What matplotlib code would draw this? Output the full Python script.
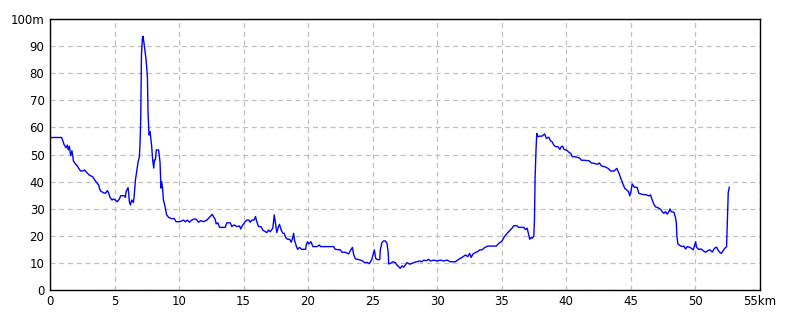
import matplotlib
matplotlib.use("Agg")
import matplotlib.pyplot as plt

# distance along route (km) and elevation (m)
dist_km = [
    0.0, 0.9, 0.98, 1.09, 1.24, 1.34, 1.42, 1.5, 1.6, 1.7, 1.76, 1.81, 1.97, 2.12, 2.22,
    2.38, 2.59, 2.69, 2.84, 3.05, 3.31, 3.47, 3.62, 3.78, 3.83, 3.93, 4.14, 4.29, 4.45,
    4.55, 4.65, 4.81, 4.91, 5.07, 5.22, 5.38, 5.48, 5.74, 5.84, 5.9, 6.05, 6.1, 6.15,
    6.23, 6.34, 6.46, 6.52, 6.62, 6.72, 6.83, 6.93, 6.98, 7.03, 7.09, 7.16, 7.21, 7.29,
    7.37, 7.45, 7.55, 7.6, 7.68, 7.76, 7.88, 7.96, 8.04, 8.09, 8.17, 8.24, 8.42, 8.53,
    8.6, 8.66, 8.73, 8.79, 8.86, 8.94, 9.04, 9.2, 9.43, 9.62, 9.77, 10.08, 10.34, 10.5,
    10.65, 10.81, 10.99, 11.17, 11.33, 11.51, 11.69, 11.89, 12.16, 12.36, 12.57, 12.67,
    12.8, 12.88, 13.01, 13.14, 13.32, 13.58, 13.71, 13.97, 14.09, 14.27, 14.48, 14.69,
    14.79, 14.9, 15.13, 15.26, 15.41, 15.52, 15.64, 15.82, 15.93, 16.03, 16.16, 16.34,
    16.5, 16.68, 16.81, 16.94, 17.07, 17.27, 17.38, 17.48, 17.58, 17.71, 17.79, 17.92,
    18.05, 18.15, 18.26, 18.41, 18.57, 18.7, 18.8, 18.88, 18.95, 19.09, 19.19, 19.34,
    19.5, 19.65, 19.81, 19.86, 19.96, 20.07, 20.22, 20.38, 20.69, 20.9, 20.95, 21.99,
    22.11, 22.5, 22.63, 22.89, 23.15, 23.28, 23.44, 23.54, 23.67, 23.93, 24.19, 24.4,
    24.57, 24.73, 24.83, 24.94, 25.04, 25.14, 25.24, 25.35, 25.56, 25.6, 25.73, 25.86,
    25.99, 26.12, 26.22, 26.25, 26.38, 26.58, 26.76, 26.89, 27.02, 27.15, 27.28, 27.41,
    27.54, 27.67, 27.88, 28.06, 28.24, 28.45, 28.65, 28.84, 28.96, 29.17, 29.35, 29.48,
    29.74, 30.0, 30.26, 30.51, 30.77, 31.03, 31.42, 31.68, 31.94, 32.2, 32.38, 32.53,
    32.64, 32.79, 32.97, 33.15, 33.31, 33.49, 33.62, 33.93, 34.26, 34.6, 34.78, 35.04,
    35.22, 35.43, 35.63, 35.81, 35.94, 36.2, 36.33, 36.72, 36.85, 36.98, 37.08, 37.18,
    37.29, 37.39, 37.5, 37.55, 37.6, 37.68, 37.73, 37.81, 37.96, 38.14, 38.33, 38.48,
    38.66, 38.79, 38.92, 39.05, 39.19, 39.37, 39.52, 39.63, 39.73, 39.84, 40.05, 40.23,
    40.36, 40.49, 40.67, 40.93, 41.08, 41.18, 41.39, 41.78, 41.96, 42.22, 42.43, 42.58,
    42.74, 43.0, 43.26, 43.46, 43.72, 43.93, 44.11, 44.24, 44.37, 44.55, 44.71, 44.84,
    44.94, 45.02, 45.13, 45.3, 45.5, 45.64, 45.9, 46.24, 46.42, 46.55, 46.68, 46.81,
    46.93, 47.11, 47.32, 47.45, 47.58, 47.71, 47.84, 47.97, 48.05, 48.15, 48.36, 48.46,
    48.54, 48.59, 48.67, 48.82, 49.0, 49.13, 49.27, 49.39, 49.55, 49.7, 49.86, 50.04,
    50.11, 50.27, 50.48, 50.63, 50.81, 50.99, 51.15, 51.33, 51.51, 51.66, 51.77, 51.87,
    52.03, 52.18, 52.31, 52.44, 52.5, 52.57, 52.65,
]
elev_m = [
    56.3, 56.3, 55.3, 53.7, 52.5, 53.5, 51.7, 53.1, 49.6, 51.4, 49.8, 47.7, 46.5, 45.8, 44.9,
    43.9, 44.0, 44.3, 43.4, 42.4, 41.8, 40.6, 39.6, 38.7, 37.5, 36.5, 35.9, 35.7, 36.7,
    35.7, 34.2, 33.2, 33.6, 33.2, 32.6, 33.6, 34.8, 34.8, 34.2, 36.3, 37.8, 35.7, 32.6,
    31.4, 33.2, 32.3, 34.4, 40.6, 43.7, 47.4, 49.2, 54.1, 62.7, 87.3, 92.9, 93.7, 91.0,
    88.0, 84.9, 78.7, 65.2, 57.2, 58.5, 53.0, 48.0, 45.0, 48.0, 48.0, 51.7, 51.7, 47.0,
    37.6, 40.0, 37.2, 33.3, 32.0, 30.2, 27.7, 26.8, 26.3, 26.4, 25.2, 25.2, 25.8, 25.2,
    25.8, 25.0, 25.8, 26.2, 26.1, 25.0, 25.6, 25.2, 25.8, 26.8, 27.9, 27.1,
    26.1, 24.4, 24.8, 23.1, 23.1, 23.1, 24.8, 24.8, 23.4, 24.0, 23.4, 23.6,
    22.5, 23.7, 25.2, 25.8, 25.8, 25.0, 25.8, 25.8, 27.1, 25.2, 23.4, 23.4,
    22.1, 21.5, 21.2, 22.1, 21.5, 22.8, 27.7, 24.6, 21.2, 23.4, 24.2, 22.1,
    20.9, 20.9, 19.4, 18.7, 18.7, 17.6, 19.1, 20.9, 18.4, 16.2, 15.0, 15.7,
    15.0, 15.0, 15.0, 16.6, 17.8, 17.0, 17.8, 16.0, 16.0, 16.6, 16.0, 16.0,
    15.0, 14.8, 13.9, 13.9, 13.3, 14.5, 15.7, 13.0, 11.5, 11.2, 10.8, 10.0,
    10.2, 9.7, 10.3, 11.2, 13.0, 14.8, 11.7, 11.2, 11.2, 14.8, 17.5, 18.1,
    18.1, 17.2, 13.5, 9.6, 9.8, 10.4, 10.1, 9.2, 8.6, 8.0, 8.9, 8.4,
    9.2, 10.1, 9.5, 9.8, 10.2, 10.4, 10.7, 10.4, 11.0, 10.8, 11.3, 10.7,
    11.0, 10.7, 11.0, 10.7, 11.0, 10.4, 10.4, 11.3, 12.0, 12.9, 12.3, 13.5,
    12.0, 13.3, 13.8, 14.2, 14.8, 14.8, 15.4, 16.2, 16.2, 16.2, 17.2, 18.1,
    19.7, 20.9, 21.9, 22.8, 23.7, 23.7, 23.1, 23.1, 22.3, 22.8, 20.9, 18.7,
    19.4, 19.1, 19.9, 25.8, 41.8, 52.9, 57.8, 56.6, 56.8, 56.8, 57.6, 56.0,
    56.4, 55.1, 54.7, 53.5, 52.9, 52.9, 51.9, 52.9, 53.1, 51.9, 51.6, 50.8,
    50.4, 49.2, 49.2, 48.9, 48.6, 47.9, 47.9, 47.7, 46.9, 46.7, 46.4, 46.9,
    45.8, 45.5, 44.9, 43.9, 43.9, 44.9, 43.0, 41.2, 39.6, 37.5, 36.9, 36.3,
    34.7, 36.3, 39.1, 37.9, 37.9, 35.7, 35.3, 35.1, 34.7, 35.1, 33.2, 31.6,
    30.7, 30.4, 29.8, 28.9, 28.3, 28.9, 28.0, 28.9, 29.9, 28.9, 28.7, 27.1,
    25.2, 19.7, 17.0, 16.4, 16.0, 16.2, 15.1, 16.0, 15.8, 15.4, 14.8, 17.8,
    15.8, 15.0, 15.1, 14.5, 13.9, 14.5, 14.8, 14.0, 15.4, 15.8, 14.8, 14.1,
    13.5, 14.5, 15.4, 16.0, 25.2, 36.0, 37.9,
]

x_ticks = [0, 5, 10, 15, 20, 25, 30, 35, 40, 45, 50, 55]
x_labels = ['0', '5', '10', '15', '20', '25', '30', '35', '40', '45', '50', '55km']
y_ticks = [0, 10, 20, 30, 40, 50, 60, 70, 80, 90, 100]
y_labels = ['0', '10', '20', '30', '40', '50', '60', '70', '80', '90', '100m']

fig = plt.figure(figsize=(8, 3.2), dpi=100)
ax = fig.add_axes([0.0625, 0.094, 0.887, 0.846])

ax.plot(dist_km, elev_m, color='#0000ff', linewidth=1.0)

ax.set_xlim(0, 55)
ax.set_ylim(0, 100)
ax.set_xticks(x_ticks)
ax.set_xticklabels(x_labels)
ax.set_yticks(y_ticks)
ax.set_yticklabels(y_labels)
ax.tick_params(length=0, labelsize=8.5, pad=4)
ax.grid(True, color='#c0c0c0', linestyle=(0, (4, 3)), linewidth=0.9)
for sp in ax.spines.values():
    sp.set_color('black')
    sp.set_linewidth(1.0)

fig.savefig('out.png', dpi=100)
